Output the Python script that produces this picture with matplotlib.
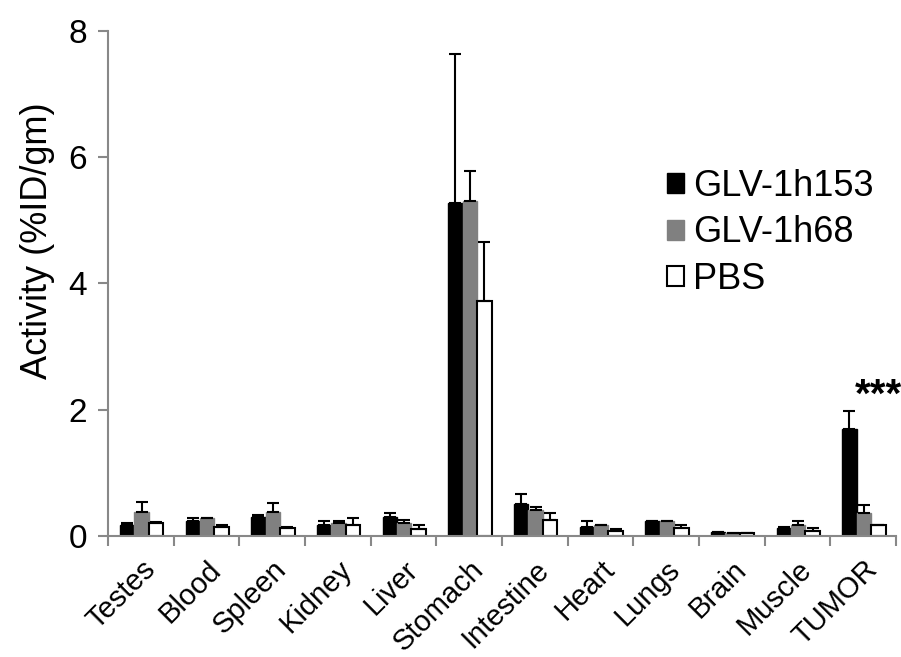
import matplotlib
matplotlib.use("Agg")
import matplotlib.pyplot as plt
import numpy as np

plt.rcParams["font.family"] = ["Liberation Sans", "DejaVu Sans"]

organs = ["Testes", "Blood", "Spleen", "Kidney", "Liver", "Stomach",
          "Intestine", "Heart", "Lungs", "Brain", "Muscle", "TUMOR"]
series_names = ["GLV-1h153", "GLV-1h68", "PBS"]

# mean activity (%ID/gm)
glv153 = [0.18, 0.24, 0.30, 0.18, 0.30, 5.28, 0.50, 0.15, 0.23, 0.06, 0.12, 1.70]
glv68 = [0.38, 0.29, 0.38, 0.21, 0.21, 5.31, 0.41, 0.17, 0.23, 0.04, 0.18, 0.37]
pbs = [0.20, 0.15, 0.12, 0.17, 0.11, 3.72, 0.26, 0.08, 0.12, 0.04, 0.08, 0.17]

# upper error (SD)
glv153_err = [0.03, 0.05, 0.04, 0.05, 0.07, 2.35, 0.16, 0.08, 0.01, 0.0, 0.03, 0.28]
glv68_err = [0.16, 0.0, 0.14, 0.02, 0.05, 0.47, 0.05, 0.0, 0.01, 0.0, 0.05, 0.12]
pbs_err = [0.02, 0.02, 0.02, 0.12, 0.06, 0.94, 0.11, 0.03, 0.05, 0.0, 0.04, 0.0]

fig = plt.figure(figsize=(9.01, 6.57), dpi=100)
ax = fig.add_axes([0.12, 0.1842, 0.8745, 0.7686])

x = np.arange(len(organs))
width = 0.22
grey = "#888888"
styles = [
    dict(color="black", edgecolor="black"),
    dict(color="#808080", edgecolor="#808080"),
    dict(color="white", edgecolor="black", linewidth=1.5),
]
offsets = [-0.21, 0.01, 0.23]
for vals, errs, off, st, name in zip([glv153, glv68, pbs],
                                     [glv153_err, glv68_err, pbs_err],
                                     offsets, styles, series_names):
    ax.bar(x + off, vals, width, label=name, zorder=2, **st)
    ax.errorbar(x + off, vals, yerr=[np.zeros(len(vals)), errs], fmt="none",
                ecolor="black", elinewidth=1.5, capsize=4, capthick=1.5, zorder=3)

ax.set_xlim(-0.5, len(organs) - 0.5)
ax.set_ylim(0, 8)
ax.set_yticks([0, 2, 4, 6, 8])
ax.tick_params(axis="y", labelsize=24, color=grey, width=1.5, length=7, pad=8)

ax.set_xticks(x)
ax.set_xticklabels(organs, rotation=45, ha="right", rotation_mode="anchor", fontsize=21)
ax.tick_params(axis="x", which="major", length=0, pad=14)
ax.set_xticks(np.arange(-0.5, len(organs), 1), minor=True)
ax.tick_params(axis="x", which="minor", color=grey, width=1.5, length=7)

for side in ("top", "right"):
    ax.spines[side].set_visible(False)
for side in ("left", "bottom"):
    ax.spines[side].set_color(grey)
    ax.spines[side].set_linewidth(1.5)

ax.set_ylabel("Activity (%ID/gm)", fontsize=26)
ax.yaxis.set_label_coords(-0.067, 0.585)

# significance marker above the TUMOR bar
ax.text(10.87, 2.22, "***", fontsize=29, fontweight="bold", ha="left", va="center",
        clip_on=False)

leg = ax.legend(loc="upper left", bbox_to_anchor=(0.709, 0.727), frameon=False,
                fontsize=26, handlelength=0.47, handleheight=0.47, handletextpad=0.25,
                labelspacing=0.32, borderaxespad=0, borderpad=0)

fig.savefig("out.png", dpi=100)
